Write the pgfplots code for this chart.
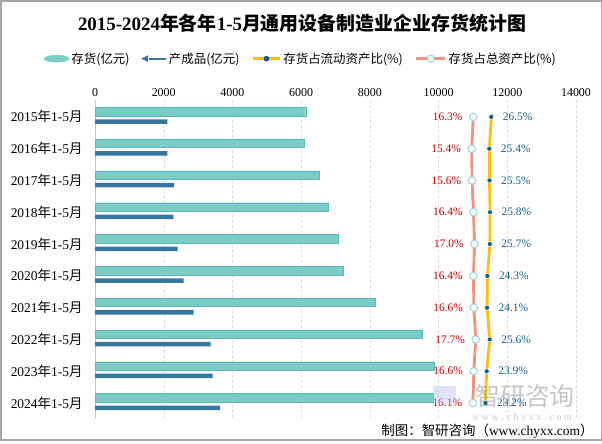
\documentclass[border=0pt]{standalone}
\usepackage{pgfplots}
\pgfplotsset{compat=1.18}
\usepackage{pgfplotstable}
\usepackage{fontspec}
\setmainfont{Liberation Serif}
\newfontfamily\cjk{Noto Sans CJK SC}

\definecolor{invteal}{RGB}{122,205,196}
\definecolor{invedge}{RGB}{92,186,176}
\definecolor{prodblue}{RGB}{52,118,160}
\definecolor{curyellow}{RGB}{255,192,0}
\definecolor{curdot}{RGB}{22,94,130}
\definecolor{totsalmon}{RGB}{240,148,126}
\definecolor{totring}{RGB}{150,212,240}
\definecolor{totfill}{RGB}{255,251,234}
\definecolor{labred}{RGB}{192,0,0}
\definecolor{labblue}{RGB}{20,96,136}

% yr: row index, inv/prod in 100 million yuan, cur/tot in %
\pgfplotstableread{
yr inv prod cur tot
0 6134 2105 26.5 16.3
1 6076 2105 25.4 15.4
2 6521 2300 25.5 15.6
3 6783 2280 25.8 16.4
4 7074 2407 25.7 17.0
5 7211 2582 24.3 16.4
6 8143 2873 24.1 16.6
7 9511 3368 25.6 17.7
8 9869 3426 23.9 16.6
9 9840 3639 23.2 16.1
}\datatable

\pgfplotsset{
  plotbox/.style={at={(95bp,-418bp)}, anchor=south west, scale only axis,
    width=481bp, height=318bp},
  rowaxis/.style={plotbox, ymin=-0.53, ymax=9.47, y dir=reverse},
}

\begin{document}
\begin{tikzpicture}
\useasboundingbox (0,0) rectangle (602bp,-444bp);
\draw[gray!70, line width=1.5bp] (0.75bp,-0.75bp) rectangle (601.25bp,-440bp);

\node at (302bp,-23bp) {\fontsize{19}{22}\selectfont\bfseries 2015-2024{\cjk 年各年}1-5{\cjk 月通用设备制造业企业存货统计图}};

\begin{axis}[rowaxis, xmin=0, xmax=14000,
  axis line style={draw=none}, major tick length=0pt,
  xtick={0,2000,...,14000}, xticklabel pos=upper, scaled x ticks=false,
  xmajorgrids, grid style={gray!25, dash pattern=on 3bp off 2bp},
  ytick={0,...,9},
  yticklabels={2015{\cjk 年}1-5{\cjk 月},2016{\cjk 年}1-5{\cjk 月},2017{\cjk 年}1-5{\cjk 月},
    2018{\cjk 年}1-5{\cjk 月},2019{\cjk 年}1-5{\cjk 月},2020{\cjk 年}1-5{\cjk 月},
    2021{\cjk 年}1-5{\cjk 月},2022{\cjk 年}1-5{\cjk 月},2023{\cjk 年}1-5{\cjk 月},
    2024{\cjk 年}1-5{\cjk 月}},
  xticklabel style={font=\fontsize{12}{14}\selectfont},
  yticklabel style={font=\fontsize{13.5}{15}\selectfont, xshift=-9bp},
  /pgf/number format/1000 sep={},
  /pgf/number format/assume math mode=true,
]
\draw[gray!45, line width=0.8bp] (axis cs:0,-0.53) -- (axis cs:0,9.47);
\addplot[xbar, bar width=8.5bp, bar shift=5.3bp, fill=invteal, draw=invedge]
  table[x=inv, y=yr]{\datatable};
\addplot[xbar, bar width=4.5bp, bar shift=-4.7bp, fill=prodblue, draw=none]
  table[x=prod, y=yr]{\datatable};
\end{axis}

\begin{axis}[rowaxis, hide axis, xmin=-198, xmax=74.5,
  point meta=x,
  nodes near coords={\pgfmathprintnumber[fixed, fixed zerofill, precision=1]{\pgfplotspointmeta}\%},
  /pgf/number format/assume math mode=true,
]
\addplot[totsalmon, line width=2.8bp, mark=*, mark size=3.8bp,
  mark options={fill=totfill, draw=totring, line width=1bp},
  every node near coord/.append style={anchor=east, xshift=-7bp, text=labred,
    font=\fontsize{11.5}{13}\selectfont}]
  table[x=tot, y=yr]{\datatable};
\addplot[curyellow, line width=2.8bp, mark=*, mark size=2.6bp,
  mark options={fill=curdot, draw=white, line width=0.6bp},
  every node near coord/.append style={anchor=west, xshift=8bp, text=labblue,
    font=\fontsize{11.5}{13}\selectfont}]
  table[x=cur, y=yr]{\datatable};
\end{axis}

% legend only
\begin{axis}[plotbox, hide axis, xmin=0, xmax=1, ymin=0, ymax=1,
  legend style={at={(0.428,1.13)}, anchor=center, draw=none, fill=none,
    legend columns=4, font=\fontsize{12.5}{14}\selectfont\cjk,
    /tikz/every even column/.append style={column sep=10bp}},
]
\addlegendimage{legend image code/.code={\fill[invteal] (12.5bp,0) ellipse (12.5bp and 3.5bp);}}
\addlegendentry{存货(亿元)}
\addlegendimage{legend image code/.code={\fill[prodblue] (0,0) -- (6bp,3bp) -- (6bp,-3bp) -- cycle;
  \draw[prodblue, line width=2.2bp] (7bp,0) -- (24bp,0);}}
\addlegendentry{产成品(亿元)}
\addlegendimage{legend image code/.code={\draw[curyellow, line width=2.8bp] (0,0) -- (27bp,0);
  \fill[curdot] (13.5bp,0) circle (2.6bp);}}
\addlegendentry{存货占流动资产比(\%)}
\addlegendimage{legend image code/.code={\draw[totsalmon, line width=2.8bp] (0,0) -- (29bp,0);
  \filldraw[fill=totfill, draw=totring, line width=1bp] (14.5bp,0) circle (3.5bp);}}
\addlegendentry{存货占总资产比(\%)}
\end{axis}

\fill[gray!40!blue!30, opacity=0.45] (433bp,-386bp) rectangle (456bp,-404bp);
\node[text=gray, opacity=0.45] at (525bp,-396bp) {\fontsize{25}{25}\selectfont\cjk 智研咨询};
\node[text=gray, opacity=0.4] at (522bp,-418bp) {\fontsize{10}{10}\selectfont w w w . c h y x x . c o m};

\node[anchor=east] at (597bp,-431bp) {\fontsize{13.5}{15}\selectfont{\cjk 制图：智研咨询（}www.chyxx.com{\cjk ）}};
\end{tikzpicture}
\end{document}
